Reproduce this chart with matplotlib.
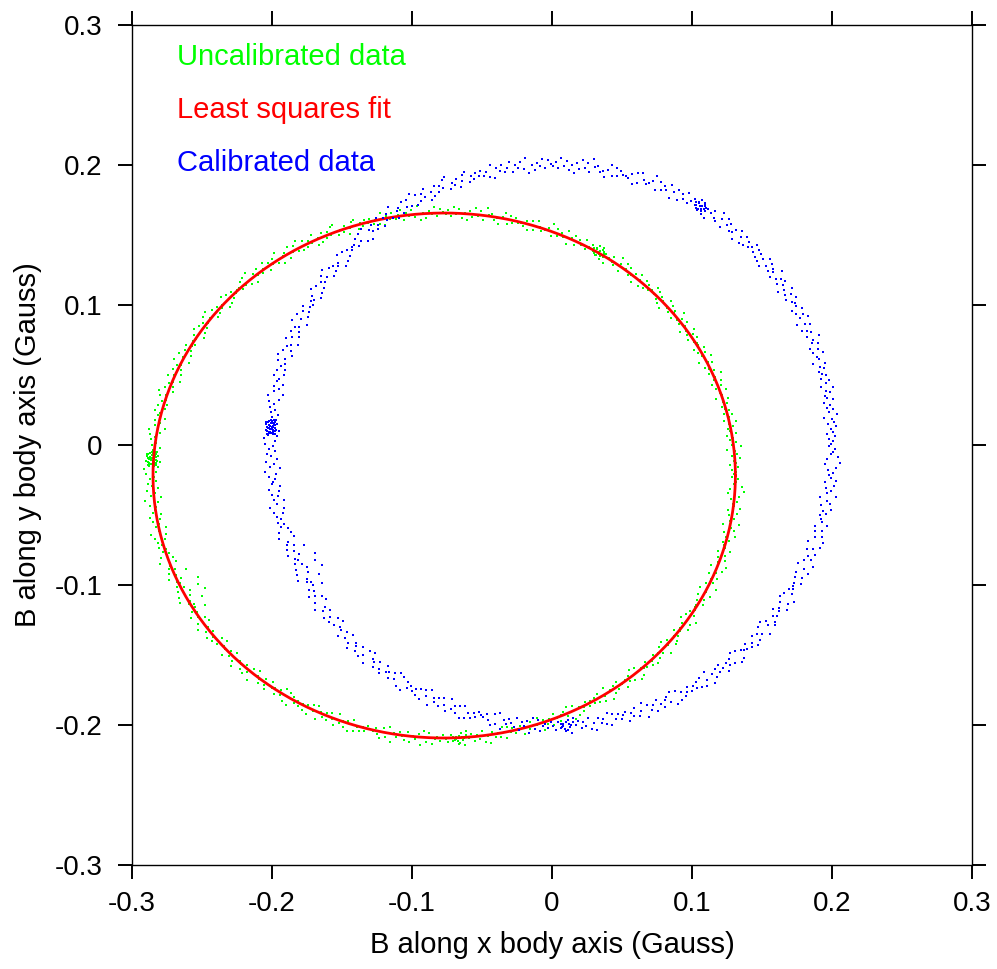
import matplotlib

matplotlib.use("Agg")

import matplotlib.pyplot as plt
import numpy as np

plt.rcParams["font.family"] = ["Liberation Sans", "DejaVu Sans"]

GREEN = "#00ff00"
RED = "#ff0000"
BLUE = "#0000ff"

# least squares ellipse fitted to the raw magnetometer samples (Gauss)
FIT_CENTER = (-0.077, -0.0218)
FIT_AXES = (0.208, 0.1875)
CAL_RADIUS = 0.2

# raw samples: one string per 15 deg of ellipse phase, each digit is the
# radial scatter of one sample about the fit (0 = inside .. 9 = outside)
GREEN_ARCS = [
    "453625473651846352743648257364",
    "36471548362745936427518463725",
    "5472638415736492563748152637485",
    "46372581643758269347516283647",
    "538462751846372964358271634",
    "4637285143659274836152748364",
    "573846251937462853746182536",
    "46352874163529846372518463729",
    "3748265193746285374619284735",
    "5463728154637295846372816453",
    "47362851946372581463729584637",
    "3856274619385746253847162938",
    "46375284619374562837461592837",
    "5746382915637482546371829453",
    "36485271946385726145836279",
    "4573862914573682547361829364",
    "64738251946372581647392857463",
    "4536827194635728463917285463",
    "57364829153746285936471825364",
    "3846275193648257436192847536",
    "46372851947362584637192845637",
    "5837462915387462548371926354",
    "47362851936472581947362854",
    "3648275194637285463719284563",
]
SCATTER_STEP = 0.0068

# dense bursts of samples taken while the spin stalled: (phase deg, width deg, digits)
GREEN_BURSTS = [
    (176.4, 3.0, "46573846529374658473652948374653847"),
    (58.0, 2.5, "465738465293746"),
    (273.0, 2.5, "4657384653"),
]

# a few stray samples pulled inwards: phase deg, relative radius
STRAY_PHASE = [202.0, 204.5, 206.0, 207.5, 209.0, 211.0]
STRAY_RADIUS = [0.955, 0.93, 0.94, 0.925, 0.95, 0.96]

TICKS = [-0.3, -0.2, -0.1, 0, 0.1, 0.2, 0.3]
TICK_LABELS = ["-0.3", "-0.2", "-0.1", "0", "0.1", "0.2", "0.3"]


def raw_samples():
    phase, rel = [], []
    width = 360.0 / len(GREEN_ARCS)
    for k, digits in enumerate(GREEN_ARCS):
        n = len(digits)
        for i, d in enumerate(digits):
            phase.append(k * width + (i + 0.5) * width / n)
            rel.append(1 + (int(d) - 4.5) * SCATTER_STEP)
    for t0, w, digits in GREEN_BURSTS:
        n = len(digits)
        for i, d in enumerate(digits):
            phase.append(t0 - w / 2 + w * i / (n - 1))
            rel.append(1 + (int(d) - 4.5) * SCATTER_STEP * 0.8)
    phase += STRAY_PHASE
    rel += STRAY_RADIUS
    t = np.radians(phase)
    rel = np.asarray(rel)
    x = FIT_CENTER[0] + rel * FIT_AXES[0] * np.cos(t)
    y = FIT_CENTER[1] + rel * FIT_AXES[1] * np.sin(t)
    return x, y


def calibrate(x, y):
    """Remove the hard-iron offset and rescale each axis to a circle."""
    return ((x - FIT_CENTER[0]) * CAL_RADIUS / FIT_AXES[0],
            (y - FIT_CENTER[1]) * CAL_RADIUS / FIT_AXES[1])


fig = plt.figure(figsize=(9.97, 9.69), dpi=100)
ax = fig.add_axes([132 / 997, 104 / 969, 840 / 997, 840 / 969])

gx, gy = raw_samples()
cx, cy = calibrate(gx, gy)

t = np.linspace(0, 2 * np.pi, 400)
ex = FIT_CENTER[0] + FIT_AXES[0] * np.cos(t)
ey = FIT_CENTER[1] + FIT_AXES[1] * np.sin(t)

ax.plot(gx, gy, "s", color=GREEN, ms=1.7, mew=0, zorder=2)
ax.plot(ex, ey, color=RED, lw=2.0, zorder=3)
ax.plot(cx, cy, "s", color=BLUE, ms=1.7, mew=0, zorder=4)

ax.text(-0.268, 0.2771, "Uncalibrated data", color=GREEN, fontsize=21, va="center")
ax.text(-0.268, 0.2393, "Least squares fit", color=RED, fontsize=21, va="center")
ax.text(-0.268, 0.2014, "Calibrated data", color=BLUE, fontsize=21, va="center")

ax.set_xlim(-0.3, 0.3)
ax.set_ylim(-0.3, 0.3)
ax.set_xticks(TICKS, TICK_LABELS)
ax.set_yticks(TICKS, TICK_LABELS)
ax.tick_params(direction="out", length=10, width=1.4, labelsize=20,
               top=True, right=True, color="black")
ax.tick_params(axis="x", pad=9)
ax.tick_params(axis="y", pad=11)
for s in ax.spines.values():
    s.set_linewidth(1.0)

ax.set_xlabel("B along x body axis (Gauss)", fontsize=21, labelpad=10)
ax.set_ylabel("B along y body axis (Gauss)", fontsize=21, labelpad=9)

fig.savefig("out.png", dpi=100)
